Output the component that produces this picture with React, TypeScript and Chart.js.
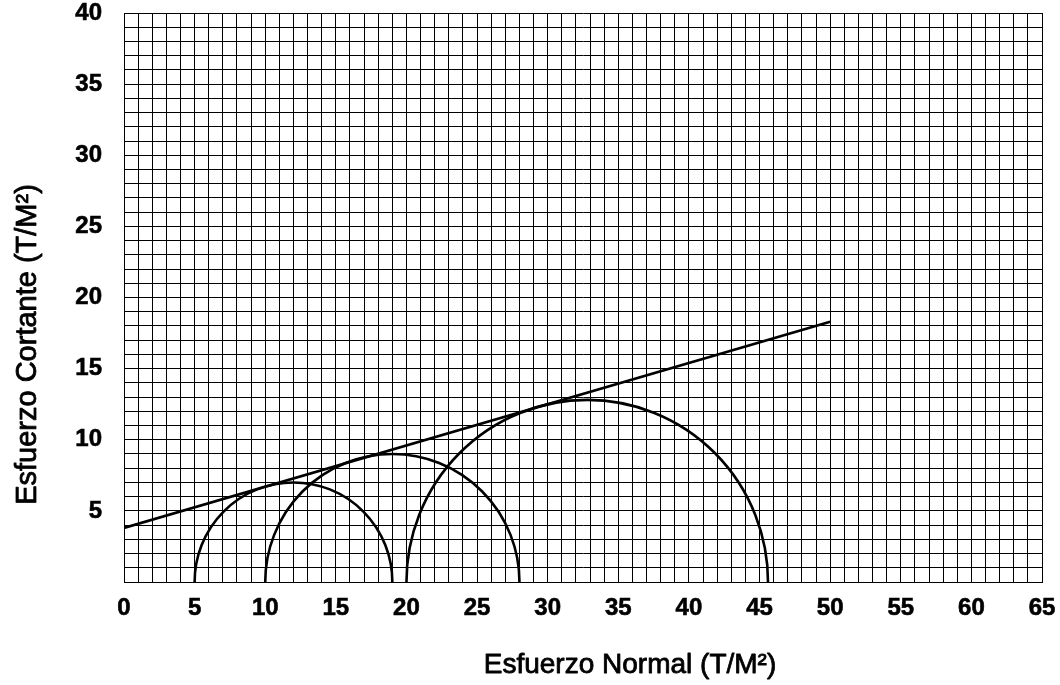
import React, { useEffect, useRef } from "react";
import { Chart, registerables } from "chart.js";

Chart.register(...registerables);

// Mohr circles: minor and major principal stresses (T/M²)
const sigma3 = [5, 10, 20];
const sigma1 = [19, 28, 45.6];

// Failure envelope (straight line)
const envelopeX = [0, 50];
const envelopeY = [3.8, 18.3];

// Axis settings
const xMin = 0;
const xMax = 65;
const yMin = 0;
const yMax = 40;
const labelEvery = 5;

const xTitle = "Esfuerzo Normal (T/M²)";
const yTitle = "Esfuerzo Cortante (T/M²)";

const FONT = '"Liberation Sans", Arial, Helvetica, sans-serif';

const circlesPlugin = {
  id: "mohrCircles",
  afterDatasetsDraw(chart: any) {
    const { ctx, chartArea, scales } = chart;
    const xs = scales.x;
    const ys = scales.y;
    ctx.save();
    ctx.beginPath();
    ctx.rect(chartArea.left, chartArea.top - 2, chartArea.right - chartArea.left, chartArea.bottom - chartArea.top + 2);
    ctx.clip();
    ctx.strokeStyle = "#000";
    ctx.lineWidth = 2.6;
    for (let i = 0; i < sigma3.length; i++) {
      const center = (sigma3[i] + sigma1[i]) / 2;
      const radius = (sigma1[i] - sigma3[i]) / 2;
      const cx = xs.getPixelForValue(center);
      const cy = ys.getPixelForValue(0);
      const rx = Math.abs(xs.getPixelForValue(sigma1[i]) - cx);
      const ry = Math.abs(ys.getPixelForValue(radius) - cy);
      ctx.beginPath();
      ctx.ellipse(cx, cy, rx, ry, 0, Math.PI, 2 * Math.PI);
      ctx.stroke();
    }
    ctx.restore();
  },
};

const titlesPlugin = {
  id: "axisTitles",
  afterDraw(chart: any) {
    const { ctx, chartArea } = chart;
    ctx.save();
    ctx.fillStyle = "#000";
    ctx.strokeStyle = "#000";
    ctx.lineWidth = 0.8;
    ctx.lineJoin = "round";
    ctx.textAlign = "center";
    ctx.textBaseline = "middle";
    ctx.font = `28px ${FONT}`;
    const midX = (chartArea.left + chartArea.right) / 2 + 47;
    const ty = chartArea.bottom + 83;
    ctx.fillText(xTitle, midX, ty);
    ctx.strokeText(xTitle, midX, ty);
    ctx.translate(28, (chartArea.top + chartArea.bottom) / 2 + 47);
    ctx.rotate(-Math.PI / 2);
    ctx.font = `29px ${FONT}`;
    ctx.fillText(yTitle, 0, 0);
    ctx.strokeText(yTitle, 0, 0);
    ctx.restore();
  },
};

export default function App() {
  const canvasRef = useRef<HTMLCanvasElement | null>(null);

  useEffect(() => {
    if (!canvasRef.current) return;
    const chart = new Chart(canvasRef.current, {
      type: "scatter",
      data: {
        datasets: [
          {
            label: "Envolvente",
            data: envelopeX.map((x, i) => ({ x, y: envelopeY[i] })),
            showLine: true,
            borderColor: "#000",
            borderWidth: 2.6,
            pointRadius: 0,
            fill: false,
          },
        ],
      },
      options: {
        animation: false,
        responsive: true,
        maintainAspectRatio: false,
        layout: { padding: { top: 13, right: 18, left: 0, bottom: 0 } },
        plugins: {
          legend: { display: false },
          tooltip: { enabled: false },
        },
        scales: {
          x: {
            type: "linear",
            min: xMin,
            max: xMax,
            afterFit(scale: any) {
              scale.height = 103;
              scale.paddingLeft = 0;
              scale.paddingRight = 0;
            },
            grid: { color: "#000", lineWidth: 1, drawTicks: false },
            border: { color: "#000", width: 1 },
            ticks: {
              stepSize: 1,
              autoSkip: false,
              maxRotation: 0,
              padding: 12,
              color: "#000",
              textStrokeColor: "#000",
              textStrokeWidth: 0.6,
              font: { family: FONT, size: 24, weight: "bold" },
              callback: (v: any) => (Number(v) % labelEvery === 0 ? String(v) : ""),
            },
          },
          y: {
            type: "linear",
            min: yMin,
            max: yMax,
            afterFit(scale: any) {
              scale.width = 124;
              scale.paddingTop = 0;
              scale.paddingBottom = 0;
            },
            grid: { color: "#000", lineWidth: 1, drawTicks: false },
            border: { color: "#000", width: 1 },
            ticks: {
              stepSize: 1,
              autoSkip: false,
              padding: 22,
              color: "#000",
              textStrokeColor: "#000",
              textStrokeWidth: 0.6,
              font: { family: FONT, size: 24, weight: "bold" },
              callback: (v: any) =>
                Number(v) % labelEvery === 0 && Number(v) !== 0 ? String(v) : "",
            },
          },
        },
      },
      plugins: [circlesPlugin, titlesPlugin],
    });
    return () => chart.destroy();
  }, []);

  return (
    <div style={{ position: "absolute", left: 0, top: 0, width: 1060, height: 685, background: "#fff" }}>
      <canvas ref={canvasRef} />
    </div>
  );
}
